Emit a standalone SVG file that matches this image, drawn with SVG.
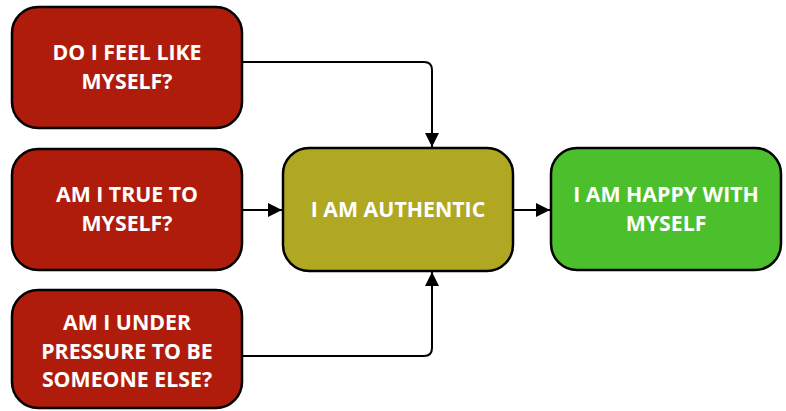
<svg xmlns="http://www.w3.org/2000/svg" width="786" height="411" viewBox="0 0 786 411">
<style>
.box{stroke:#000;stroke-width:2.5}
.red{fill:#AF1C0B}
.olive{fill:#B0A822}
.green{fill:#4CBF2D}
.t{font-family:"Open Sans","Noto Sans",sans-serif;font-weight:bold;font-size:21.3px;fill:#fff;text-anchor:middle}
.c{fill:none;stroke:#000;stroke-width:2}
</style>
<defs>
<marker id="ah" viewBox="0 0 14 14" refX="14" refY="7" markerWidth="14" markerHeight="14" markerUnits="userSpaceOnUse" orient="auto">
<path d="M0,0 L14,7 L0,14 Z" fill="#000"/>
</marker>
</defs>
<g id="connectors">
<path class="c" d="M242,62 H424 Q432,62 432,70 V147" marker-end="url(#ah)"/>
<path class="c" d="M242,210 H282" marker-end="url(#ah)"/>
<path class="c" d="M242,356 H424 Q432,356 432,348 V272" marker-end="url(#ah)"/>
<path class="c" d="M513,210 H550" marker-end="url(#ah)"/>
</g>
<g id="n1">
<rect class="box red" x="12" y="7" width="230" height="121" rx="26"/>
<text class="t" x="127" y="60">DO I FEEL LIKE</text>
<text class="t" x="127" y="89">MYSELF?</text>
</g>
<g id="n2">
<rect class="box red" x="12" y="149" width="230" height="121" rx="26"/>
<text class="t" x="127" y="202">AM I TRUE TO</text>
<text class="t" x="127" y="231">MYSELF?</text>
</g>
<g id="n3">
<rect class="box red" x="12" y="290" width="230" height="118" rx="26"/>
<text class="t" x="127" y="330">AM I UNDER</text>
<text class="t" x="127" y="358.5">PRESSURE TO BE</text>
<text class="t" x="127" y="387">SOMEONE ELSE?</text>
</g>
<g id="n4">
<rect class="box olive" x="283" y="148" width="230" height="123" rx="26"/>
<text class="t" x="398" y="217">I AM AUTHENTIC</text>
</g>
<g id="n5">
<rect class="box green" x="551" y="148" width="230" height="122" rx="26"/>
<text class="t" x="666" y="202">I AM HAPPY WITH</text>
<text class="t" x="666" y="231">MYSELF</text>
</g>
</svg>
